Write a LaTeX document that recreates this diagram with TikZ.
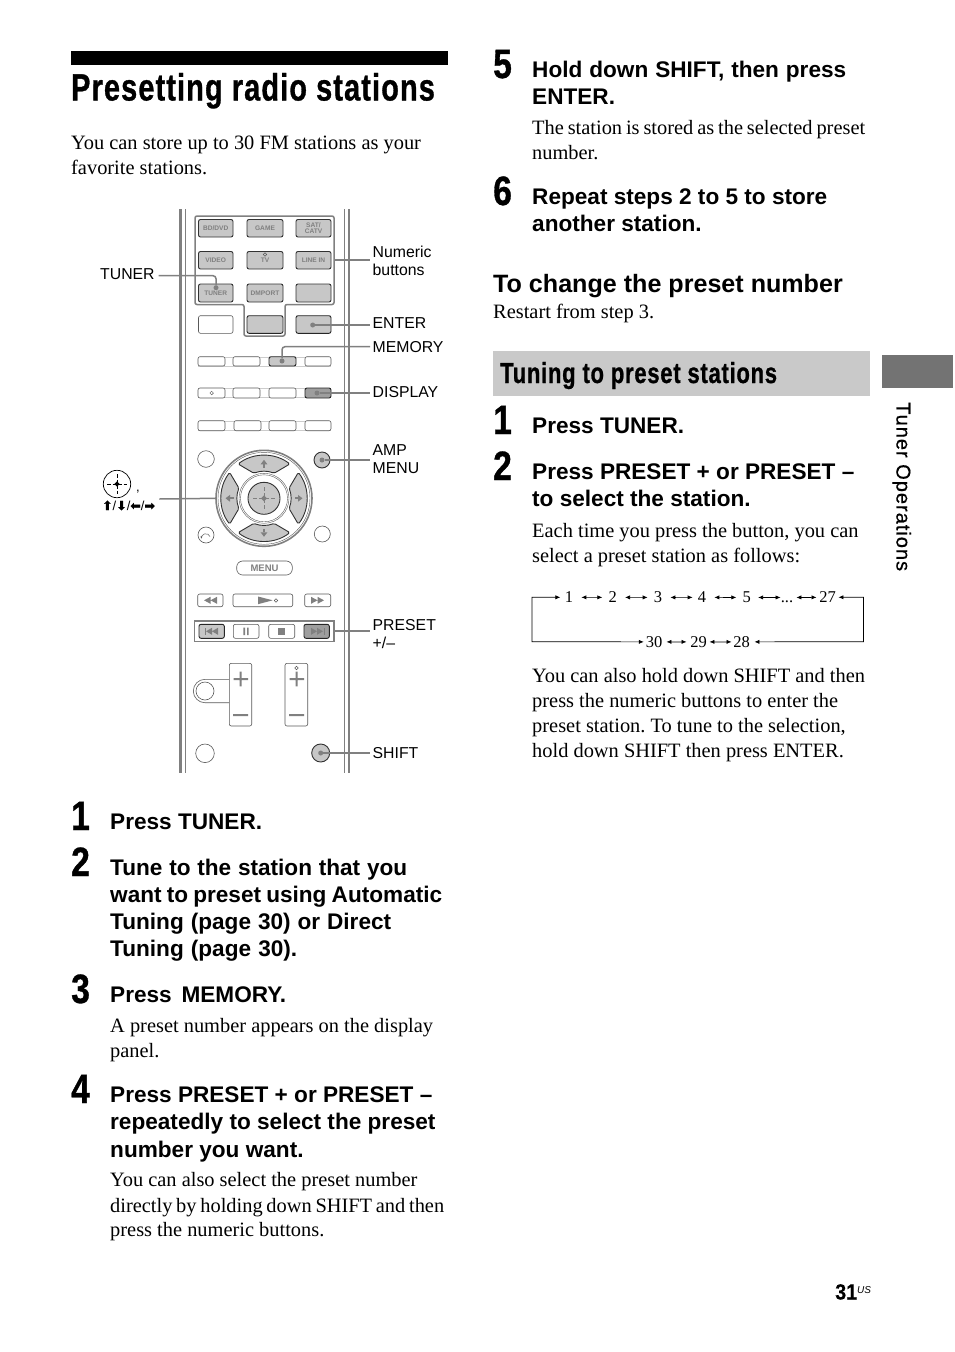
\documentclass[tikz,border=0pt]{standalone}
\usepackage{fontspec}
\usetikzlibrary{arrows.meta}
\setmainfont{Liberation Serif}
\newfontfamily\arialf{Liberation Sans}
\newfontfamily\sidef[LetterSpace=5,FakeBold=0.6]{Liberation Sans}
\newfontfamily\condf[FakeStretch=0.76,LetterSpace=2.5,FakeBold=0.8]{Liberation Sans Bold}
\newfontfamily\titlef[FakeStretch=0.76,LetterSpace=3,FakeBold=0.8]{Liberation Sans Bold}
\newfontfamily\numf[FakeStretch=0.82,FakeBold=0.8]{Liberation Sans Bold}
\newfontfamily\pgf[FakeStretch=0.9,FakeBold=0.4]{Liberation Sans Bold}
\newfontfamily\dejaf[FakeBold=1.2]{DejaVu Sans}
\newcommand{\fz}[1]{\fontsize{#1}{#1}\selectfont}
\definecolor{rail}{gray}{0.5}
\definecolor{btn}{gray}{0.78}
\definecolor{btnd}{gray}{0.62}
\definecolor{ink}{gray}{0.35}
\definecolor{txt}{gray}{0.5}
\newcounter{tn}
\newcommand{\fitw}[2]{\hbox to #1pt{\spaceskip=.25em plus 1fil minus 1fil #2}}
\newcommand{\bd}[3]{\stepcounter{tn}\node[anchor=base west,inner sep=0,font=\fz{20.4}] (t\thetn) at (#1,#2) {#3};}
\newcommand{\bdw}[4]{\stepcounter{tn}\node[anchor=base west,inner sep=0,font=\fz{20.4}] (t\thetn) at (#1,#2) {\fitw{#3}{#4}};}
\newcommand{\hd}[3]{\stepcounter{tn}\node[anchor=base west,inner sep=0,font=\arialf\bfseries\fz{22.6}] (t\thetn) at (#1,#2) {#3};}
\newcommand{\hdw}[4]{\stepcounter{tn}\node[anchor=base west,inner sep=0,font=\arialf\bfseries\fz{22.6}] (t\thetn) at (#1,#2) {\fitw{#3}{#4}};}
\newcommand{\lb}[3]{\stepcounter{tn}\node[anchor=base west,inner sep=0,font=\arialf\fz{15.8}] (t\thetn) at (#1,#2) {#3};}
\newcommand{\nm}[3]{\stepcounter{tn}\node[anchor=base west,inner sep=0,font=\numf\fz{41}] (t\thetn) at (#1,#2) {#3};}
\newcommand{\cyc}[4]{\node[anchor=base,inner sep=0,font=\fz{16.5}] (#3) at (#1,#2) {\vphantom{1}#4};}
\newcommand{\bt}[7]{\node[#6,minimum width={(#4-#2)*1pt},minimum height={(#5-#3)*1pt},inner sep=0] (#1) at ({(#2+#4)/2},{(#3+#5)/2}) {#7};}
\tikzset{
 x=1pt,y=-1pt,
 railthick/.style={draw=rail,line width=2.6pt},
 railthin/.style={draw=rail,line width=0.8pt},
 wbtn/.style={draw=ink,line width=0.6pt,rounded corners=2pt,fill=white,font=\arialf\fz{8},text=txt},
 gbtn/.style={draw=black!85,line width=0.9pt,rounded corners=2pt,fill=btn},
 nbtn/.style={draw=black!80,line width=0.9pt,rounded corners=2pt,fill=btn,font=\arialf\bfseries\fz{6.6},text=txt,align=center},
 lead/.style={draw=rail,line width=1.5pt},
 dot/.style={circle,fill=rail,draw=none,minimum size=5pt,inner sep=0},
 hub/.style={draw=black!80,line width=0.9pt,fill=btn},
 ringc/.style={draw=ink,line width=0.6pt,fill=white},
 sym/.style={fill=rail,draw=none},
 cycl/.style={line width=0.7pt,draw=black},
 tips/.style={{Latex[length=5pt,width=4.2pt]}-{Latex[length=5pt,width=4.2pt]}},
}
\begin{document}
\frenchspacing
\begin{tikzpicture}
\useasboundingbox (0,0) rectangle (954,1352);
\fill[white] (0,0) rectangle (954,1352);
% page furniture
\fill[black] (71,51) rectangle (448,64.5);
\fill[black!21] (493,351) rectangle (870,396);
\fill[black!55] (882,355) rectangle (953,388);
\node[anchor=base west,inner sep=0,font=\titlef\fz{38}] (title) at (71,100.5) {Presetting radio stations};
\node[anchor=base west,inner sep=0,font=\condf\fz{29}] (sect) at (500,383) {Tuning to preset stations};
\node[anchor=base west,inner sep=0,font=\arialf\bfseries\fz{25.1}] (chg) at (493,292.5) {To change the preset number};
\node[anchor=base west,inner sep=0,rotate=-90,font=\sidef\fz{20}] (side) at (896.5,402) {Tuner Operations};
\node[anchor=base west,inner sep=0,font=\pgf\fz{22}] (pg) at (835,1299.5) {31};
\node[anchor=base west,inner sep=0,font=\arialf\itshape\fz{10}] (us) at (857,1293.5) {US};
% left column text
\bd{71}{149}{You can store up to 30 FM stations as your}
\bd{71}{174}{favorite stations.}
\nm{71}{830}{1}
\hd{110}{829}{Press TUNER.}
\nm{71}{876}{2}
\hdw{110}{875}{297}{Tune to the station that you}
\hdw{110}{902}{332}{want to preset using Automatic}
\hdw{110}{929}{281}{Tuning (page 30) or Direct}
\hdw{110}{956}{187}{Tuning (page 30).}
\nm{71}{1003}{3}
\hdw{110}{1002}{176}{Press MEMORY.}
\bd{110}{1032}{A preset number appears on the display}
\bd{110}{1057}{panel.}
\nm{71}{1103}{4}
\hd{110}{1102}{Press PRESET + or PRESET –}
\hd{110}{1129}{repeatedly to select the preset}
\hd{110}{1157}{number you want.}
\bd{110}{1186}{You can also select the preset number}
\bdw{110}{1212}{334}{directly by holding down SHIFT and then}
\bd{110}{1236}{press the numeric buttons.}
% right column text
\nm{493}{78}{5}
\hdw{532}{77}{314}{Hold down SHIFT, then press}
\hd{532}{104}{ENTER.}
\bdw{532}{134}{333}{The station is stored as the selected preset}
\bd{532}{159}{number.}
\nm{493}{205}{6}
\hd{532}{204}{Repeat steps 2 to 5 to store}
\hd{532}{231}{another station.}
\bd{493}{318}{Restart from step 3.}
\nm{493}{434}{1}
\hd{532}{433}{Press TUNER.}
\nm{493}{480}{2}
\hd{532}{479}{Press PRESET + or PRESET –}
\hd{532}{506}{to select the station.}
\bd{532}{537}{Each time you press the button, you can}
\bd{532}{562}{select a preset station as follows:}
\bd{532}{682}{You can also hold down SHIFT and then}
\bd{532}{707}{press the numeric buttons to enter the}
\bd{532}{732}{preset station. To tune to the selection,}
\bd{532}{757}{hold down SHIFT then press ENTER.}
% preset cycle
\cyc{569}{602.8}{n1}{1}\cyc{612.7}{602.8}{n2}{2}\cyc{658}{602.8}{n3}{3}\cyc{702}{602.8}{n4}{4}\cyc{746.7}{602.8}{n5}{5}
\cyc{787}{602.8}{ndots}{...}
\cyc{827.5}{602.8}{n27}{27}\cyc{654}{647.3}{n30}{30}\cyc{698.5}{647.3}{n29}{29}\cyc{741.5}{647.3}{n28}{28}
\coordinate (ca) at (532,597.2);\coordinate (cb) at (532,641.7);
\coordinate (cc) at (863.5,597.2);\coordinate (cd) at (863.5,641.7);
\draw[cycl,tips,shorten <=1.75pt,shorten >=4.3pt] (n30) -- (cb) -- (ca) -- (n1);
\draw[cycl,tips,shorten <=2.5pt,shorten >=4.5pt] (n27) -- (cc) -- (cd) -- (n28);
\foreach \pa/\pb/\sa/\sb in {n1/n2/8/6,n2/n3/8/6,n3/n4/8/5,n4/n5/8/6,n5/ndots/7/0,ndots/n27/3/2.5,n30/n29/4/3.5,n29/n28/2.5/1.5}
 \draw[cycl,tips,shorten <=\sa pt,shorten >=\sb pt] (\pa) -- (\pb);
% remote rails
\draw[railthick] (180.5,209) -- (180.5,773);
\draw[railthin] (185,209) -- (185,773);
\draw[railthin] (344,209) -- (344,773);
\draw[railthick] (349,209) -- (349,773);
% numeric group outline
\coordinate (g1) at (195,216);\coordinate (g2) at (334,216);\coordinate (g3) at (334,304.5);
\coordinate (g4) at (285,304.5);\coordinate (g5) at (285,336);\coordinate (g6) at (244,336);
\coordinate (g7) at (244,304.5);\coordinate (g8) at (195,304.5);
\draw[draw=rail,line width=1.5pt,rounded corners=2pt] (g1)--(g2)--(g3)--(g4)--(g5)--(g6)--(g7)--(g8)--cycle;
% numeric buttons
\bt{bd}{198.5}{219.5}{233}{237}{nbtn}{BD/DVD}
\bt{game}{247}{219.5}{283}{237}{nbtn}{GAME}
\bt{sat}{296}{219.5}{331}{237}{nbtn}{\fz{6.6}\baselineskip=6pt SAT/\\CATV}
\bt{video}{198.5}{251.5}{233}{269}{nbtn}{VIDEO}
\bt{tv}{247}{251.5}{283}{269}{nbtn}{TV}
\bt{linein}{296}{251.5}{331}{269}{nbtn}{LINE IN}
\bt{tuner}{198.5}{284}{233}{302}{nbtn}{TUNER}
\bt{dmport}{247}{284}{283}{302}{nbtn}{DMPORT}
\bt{blank}{296}{284}{331}{302}{nbtn}{}
\bt{w4}{198.5}{315.7}{233}{333.3}{wbtn}{}
\bt{g4b}{247}{315.7}{283}{333.3}{gbtn}{}
\bt{enter}{296}{315.7}{331}{333.3}{gbtn}{}
% strip rows
\foreach \yy in {361.3,393,425.7}{
 \draw[draw=black!20,line width=0.5pt] (198,\yy-4.5) -- (331,\yy-4.5) (198,\yy+4.5) -- (331,\yy+4.5);
}
\bt{a1}{198}{356.7}{225}{366}{wbtn}{}
\bt{a2}{233}{356.7}{260}{366}{wbtn}{}
\bt{memory}{269}{356.7}{296}{366}{gbtn}{}
\bt{a4}{305}{356.7}{331}{366}{wbtn}{}
\bt{b1}{198}{388}{225}{398}{wbtn}{}
\bt{b2}{233}{388}{260}{398}{wbtn}{}
\bt{b3}{269}{388}{296}{398}{wbtn}{}
\bt{display}{305}{388}{331}{398}{gbtn,fill=btnd}{}
\bt{c1}{198}{420.7}{225}{430.7}{wbtn}{}
\bt{c2}{234}{420.7}{261}{430.7}{wbtn}{}
\bt{c3}{269}{420.7}{296}{430.7}{wbtn}{}
\bt{c4}{305}{420.7}{331}{430.7}{wbtn}{}
% tiny diamonds
\node[draw=ink,line width=0.4pt,rotate=45,minimum size=2.5pt,inner sep=0] (d1) at (211.7,393) {};
\node[draw=ink,line width=0.4pt,rotate=45,minimum size=2.5pt,inner sep=0] (d2) at (265,254.5) {};
% round buttons
\node[ringc,circle,minimum size=16.6pt,inner sep=0] (cl) at (206,459) {};
\node[hub,circle,minimum size=16pt,inner sep=0] (amp) at (322,460) {};
\node[ringc,circle,minimum size=16pt,inner sep=0] (ret) at (206,535) {};
\node[ringc,circle,minimum size=16pt,inner sep=0] (cr) at (322.3,534) {};
\draw[ink,line width=0.5pt,-{Latex[length=2.2pt,width=2.2pt]}] (210,536.5) arc[start angle=-20,end angle=-190,radius=4.3];
% D-pad
\begin{scope}[shift={(264,498.3)}]
 \node[draw=rail,line width=1.6pt,circle,minimum size=96pt,inner sep=0,fill=white] (pad) at (0,0) {};
 \draw[ink,line width=0.4pt] (0,0) circle[radius=46];
 \foreach \a in {0,90,180,270}{
  \begin{scope}[rotate=\a]
   \draw[hub,rounded corners=1.5pt] (37:43) arc[start angle=37,end angle=-37,radius=43] -- (-22:27) arc[start angle=-22,end angle=22,radius=27] -- cycle;
   \fill[sym] (38.5,0) -- (34,-3.4) -- (34,3.4) -- cycle;
   \fill[sym] (34,-1) rectangle (30.5,1);
  \end{scope}}
 \draw[ink,line width=0.4pt] (0,0) circle[radius=25];
 \draw[ink,line width=0.4pt] (0,0) circle[radius=23.5];
 \node[hub,circle,minimum size=32pt,inner sep=0] (ok) at (0,0) {};
 \draw[rail,line width=0.6pt] (-11,0)--(-7,0) (-5,0)--(5,0) (7,0)--(11,0) (0,-11)--(0,-7) (0,-5)--(0,5) (0,7)--(0,11);
 \fill[sym] (3,0)--(0,3)--(-3,0)--(0,-3)--cycle;
\end{scope}
\bt{menu}{236.7}{561}{292.3}{575}{wbtn,rounded corners=6pt,font=\arialf\bfseries\fz{9.5}}{MENU}
% transport
\bt{rew}{197.7}{594}{223}{606.7}{wbtn}{}
\bt{play}{233}{594}{292.7}{606.7}{wbtn}{}
\bt{ffw}{304.7}{594}{330.7}{606.7}{wbtn}{}
\fill[sym] (204,600.3)--(210.5,596.8)--(210.5,603.8)--cycle (210.5,600.3)--(217,596.8)--(217,603.8)--cycle;
\fill[sym] (324,600.3)--(317.5,596.8)--(317.5,603.8)--cycle (317.5,600.3)--(311,596.8)--(311,603.8)--cycle;
\fill[sym] (258,596.5)--(272.7,600.3)--(258,604.2)--cycle;
\node[draw=ink,line width=0.4pt,rotate=45,minimum size=2.5pt,inner sep=0] (d3) at (276,600.5) {};
\node[draw=rail,line width=1.5pt,minimum width=139.7pt,minimum height=20.7pt,inner sep=0] (pgrp) at (264.2,631.3) {};
\bt{prev}{199}{624.3}{224.3}{638.3}{gbtn}{}
\bt{pause}{233.3}{624.3}{259}{638.3}{wbtn}{}
\bt{stop}{268.7}{624.3}{294.7}{638.3}{wbtn}{}
\bt{next}{304}{624.3}{329.3}{638.3}{gbtn,fill=btnd}{}
\fill[sym] (204.5,627.8) rectangle (205.5,634.8);
\fill[sym] (206,631.3)--(212,627.8)--(212,634.8)--cycle (212,631.3)--(218,627.8)--(218,634.8)--cycle;
\fill[sym] (323.5,627.8) rectangle (324.5,634.8);
\fill[sym] (323,631.3)--(317,627.8)--(317,634.8)--cycle (317,631.3)--(311,627.8)--(311,634.8)--cycle;
\fill[sym] (243.3,627.5) rectangle (245,635) (247,627.5) rectangle (248.7,635);
\fill[sym] (278,628) rectangle (285,635);
% volume and lower buttons
\draw[ink,line width=0.6pt] (229.3,679.3) -- (205,679.3) arc[start angle=-90,end angle=-270,radius=11.7] -- (229.3,702.7);
\node[ringc,circle,minimum size=18pt,inner sep=0] (mute) at (205,691) {};
\bt{volL}{229.3}{663.3}{251.7}{726}{wbtn}{}
\bt{volR}{285}{663.3}{307.7}{726}{wbtn}{}
\fill[sym] (233.5,678) rectangle (248,680) (239.7,671.7) rectangle (241.7,686.3) (233,714) rectangle (248,716);
\fill[sym] (289.5,678) rectangle (304,680) (295.7,671.7) rectangle (297.7,686.3) (289,714) rectangle (304,716);
\node[draw=ink,line width=0.4pt,rotate=45,minimum size=2.5pt,inner sep=0] (d4) at (296.5,668) {};
\node[ringc,circle,minimum size=18.6pt,inner sep=0] (cb2) at (205,753.3) {};
\node[hub,circle,minimum size=18pt,inner sep=0] (shift) at (320.7,753) {};
% labels of the remote
\lb{100}{279}{TUNER}
\lb{372.5}{257.5}{Numeric}
\lb{372.5}{275}{buttons}
\lb{372.5}{328}{ENTER}
\lb{372.5}{352}{MEMORY}
\lb{372.5}{397}{DISPLAY}
\lb{372.5}{455}{AMP}
\lb{372.5}{473}{MENU}
\lb{372.5}{630}{PRESET}
\lb{372.5}{648}{+/–}
\lb{372.5}{758}{SHIFT}
% leader dots
\node[dot] (dTuner) at (216,287.7) {};
\node[dot] (dEnter) at (312.7,325) {};
\node[dot] (dMem) at (282,361) {};
\node[dot] (dDisp) at (317,393) {};
\node[dot] (dAmp) at (322,460) {};
\node[dot] (dShift) at (320.7,753) {};
\coordinate (eTuner) at (158.5,275.7);
\coordinate (eNum) at (370,260);
\coordinate (eEnter) at (370,325);
\coordinate (eMem) at (370,346.7);
\coordinate (eDisp) at (370,393);
\coordinate (eAmp) at (370,460);
\coordinate (ePad) at (159.3,499);
\coordinate (ePre) at (370,631);
\coordinate (eShift) at (370,753);
\draw[lead,rounded corners=3pt] (eTuner) -| (dTuner);
\draw[lead] (g3 |- eNum) -- (eNum);
\draw[lead] (dEnter) -- (eEnter);
\draw[lead,rounded corners=3pt] (dMem) |- (eMem);
\draw[lead] (dDisp) -- (eDisp);
\draw[lead] (dAmp) -- (eAmp);
\draw[lead] (ePad) -- (pad.west);
\draw[lead] (pgrp.east |- ePre) -- (ePre);
\draw[lead] (dShift) -- (eShift);
% direction key icon
\node[draw=black,line width=0.7pt,circle,minimum size=27.4pt,inner sep=0] (okicon) at (117,484) {};
\draw[black,line width=0.6pt] (107,484)--(110.5,484) (112.5,484)--(121.5,484) (123.5,484)--(127,484) (117,474)--(117,477.5) (117,479.5)--(117,488.5) (117,490.5)--(117,494);
\fill[black] (119.6,484)--(117,486.6)--(114.4,484)--(117,481.4)--cycle;
\node[anchor=base,inner sep=0,font=\arialf\fz{13}] (comma) at (138,491) {,};
\node[anchor=base west,inner sep=0,font=\arialf\fz{13}] (arrows) at (102,510) {{\dejaf\fz{12.5}⬆}/{\dejaf\fz{12.5}⬇}/{\dejaf\fz{12.5}⬅}/{\dejaf\fz{12.5}➡}};
\end{tikzpicture}
\end{document}
